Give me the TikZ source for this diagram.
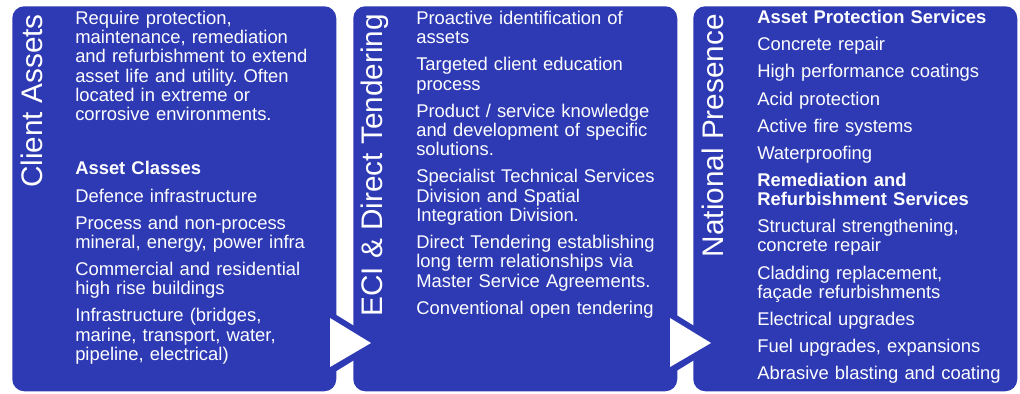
\documentclass[tikz,border=0pt]{standalone}
\usepackage{fontspec}
\setmainfont{Liberation Sans}
\usepackage{tikz}
\usetikzlibrary{calc}
\definecolor{panelblue}{RGB}{46,58,180}
\frenchspacing

\begin{document}
\begin{tikzpicture}[x=0.75pt,y=-0.75pt,
    panel/.style={fill=panelblue,rounded corners=9pt,anchor=north west,inner sep=0pt,
        minimum width=243pt,minimum height=288.75pt},
    heading/.style={text=white,rotate=90,anchor=base east,inner sep=0pt,
        font=\fontsize{22.3pt}{26pt}\selectfont},
    body/.style={text=white,anchor=north west,inner sep=0pt,align=left,text width=192pt,
        font=\fontsize{13.8pt}{14.5pt}\selectfont}]

            \useasboundingbox (0,0) rectangle (1020,393);

            % the three panels
            \node[panel] (P1) at (12,6) {};
            \node[panel] (P2) at (353,6) {};
            \node[panel] (P3) at (693,6) {};

            % arrows between the panels
            \foreach \d in {0,340} {
                \fill[panelblue] (325+\d,308) -- (325+\d,378) -- (382+\d,343) -- cycle;
                \fill[white] (330+\d,318) -- (330+\d,367) -- (371+\d,343) -- cycle;
            }

            % titles
            \node[heading] (T1) at (42,14) {Client Assets};
            \node[heading] (T2) at (382,14) {ECI \& Direct Tendering};
            \node[heading] (T3) at (723,14) {National Presence};

            % lists
            \node[body] (L1) at (75,10.5) {\strut Require protection,\\
                maintenance, remediation\\
                and refurbishment to extend\\
                asset life and utility. Often\\
                located in extreme or\\
                corrosive environments.\\[26pt]
                \textbf{Asset Classes}\\[5.8pt]
                Defence infrastructure\\[5.8pt]
                Process and non-process\\
                mineral, energy, power infra\\[5.8pt]
                Commercial and residential\\
                high rise buildings\\[5.8pt]
                Infrastructure (bridges,\\
                marine, transport, water,\\
                pipeline, electrical)};

            \node[body] (L2) at (416,10.5) {\strut Proactive identification of\\
                assets\\[5.8pt]
                Targeted client education\\
                process\\[5.8pt]
                Product / service knowledge\\
                and development of specific\\
                solutions.\\[5.8pt]
                Specialist Technical Services\\
                Division and Spatial\\
                Integration Division.\\[5.8pt]
                Direct Tendering establishing\\
                long term relationships via\\
                Master Service Agreements.\\[5.8pt]
                Conventional open tendering};

            \node[body] (L3) at (757,10) {\strut\textbf{Asset Protection Services}\\[5.8pt]
                Concrete repair\\[5.8pt]
                High performance coatings\\[5.8pt]
                Acid protection\\[5.8pt]
                Active fire systems\\[5.8pt]
                Waterproofing\\[5.8pt]
                \textbf{Remediation and}\\
                \textbf{Refurbishment Services}\\[5.8pt]
                Structural strengthening,\\
                concrete repair\\[5.8pt]
                Cladding replacement,\\
                façade refurbishments\\[5.8pt]
                Electrical upgrades\\[5.8pt]
                Fuel upgrades, expansions\\[5.8pt]
                Abrasive blasting and coating};
        \end{tikzpicture}
\end{document}
